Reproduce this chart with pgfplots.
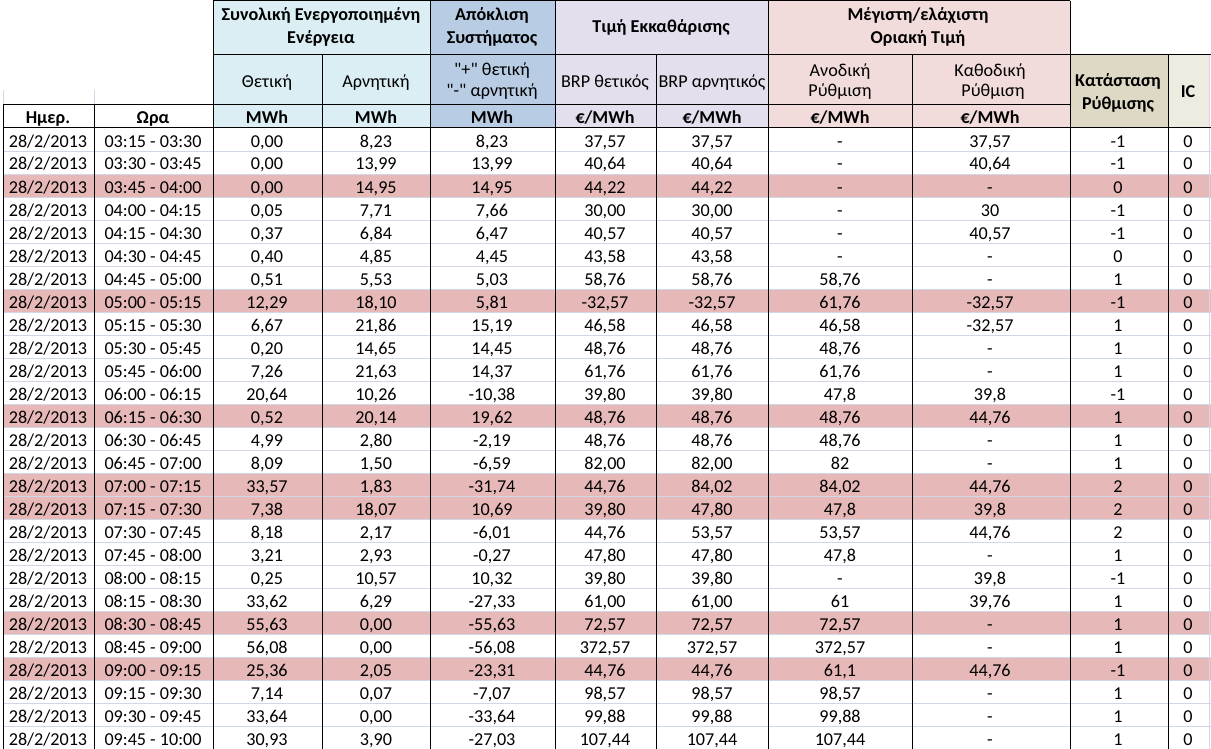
\documentclass[border=0pt]{standalone}
\usepackage{pgfplots}
\pgfplotsset{compat=1.18}
\usepackage{pgfplotstable}
\usepackage{fontspec}
\setmainfont{Carlito}[Ligatures=TeXOff]
\definecolor{hblue}{HTML}{DAEEF3}
\definecolor{hsteel}{HTML}{B8CCE4}
\definecolor{hlav}{HTML}{E4DFEC}
\definecolor{hpink}{HTML}{F2DCDB}
\definecolor{htan}{HTML}{DDD9C4}
\definecolor{hbeige}{HTML}{EEECE1}
\definecolor{hrow}{HTML}{E6B8B7}
\definecolor{gridc}{HTML}{D0D7E5}

\pgfplotstableread[col sep=semicolon]{
i;date;time;pos;neg;dev;brpp;brpn;up;down;state;ic
1;28/2/2013;03:15 - 03:30;0.00;8.23;8.23;37.57;37.57;-;37,57;-1;0
2;28/2/2013;03:30 - 03:45;0.00;13.99;13.99;40.64;40.64;-;40,64;-1;0
3;28/2/2013;03:45 - 04:00;0.00;14.95;14.95;44.22;44.22;-;-;0;0
4;28/2/2013;04:00 - 04:15;0.05;7.71;7.66;30.00;30.00;-;30;-1;0
5;28/2/2013;04:15 - 04:30;0.37;6.84;6.47;40.57;40.57;-;40,57;-1;0
6;28/2/2013;04:30 - 04:45;0.40;4.85;4.45;43.58;43.58;-;-;0;0
7;28/2/2013;04:45 - 05:00;0.51;5.53;5.03;58.76;58.76;58,76;-;1;0
8;28/2/2013;05:00 - 05:15;12.29;18.10;5.81;-32.57;-32.57;61,76;-32,57;-1;0
9;28/2/2013;05:15 - 05:30;6.67;21.86;15.19;46.58;46.58;46,58;-32,57;1;0
10;28/2/2013;05:30 - 05:45;0.20;14.65;14.45;48.76;48.76;48,76;-;1;0
11;28/2/2013;05:45 - 06:00;7.26;21.63;14.37;61.76;61.76;61,76;-;1;0
12;28/2/2013;06:00 - 06:15;20.64;10.26;-10.38;39.80;39.80;47,8;39,8;-1;0
13;28/2/2013;06:15 - 06:30;0.52;20.14;19.62;48.76;48.76;48,76;44,76;1;0
14;28/2/2013;06:30 - 06:45;4.99;2.80;-2.19;48.76;48.76;48,76;-;1;0
15;28/2/2013;06:45 - 07:00;8.09;1.50;-6.59;82.00;82.00;82;-;1;0
16;28/2/2013;07:00 - 07:15;33.57;1.83;-31.74;44.76;84.02;84,02;44,76;2;0
17;28/2/2013;07:15 - 07:30;7.38;18.07;10.69;39.80;47.80;47,8;39,8;2;0
18;28/2/2013;07:30 - 07:45;8.18;2.17;-6.01;44.76;53.57;53,57;44,76;2;0
19;28/2/2013;07:45 - 08:00;3.21;2.93;-0.27;47.80;47.80;47,8;-;1;0
20;28/2/2013;08:00 - 08:15;0.25;10.57;10.32;39.80;39.80;-;39,8;-1;0
21;28/2/2013;08:15 - 08:30;33.62;6.29;-27.33;61.00;61.00;61;39,76;1;0
22;28/2/2013;08:30 - 08:45;55.63;0.00;-55.63;72.57;72.57;72,57;-;1;0
23;28/2/2013;08:45 - 09:00;56.08;0.00;-56.08;372.57;372.57;372,57;-;1;0
24;28/2/2013;09:00 - 09:15;25.36;2.05;-23.31;44.76;44.76;61,1;44,76;-1;0
25;28/2/2013;09:15 - 09:30;7.14;0.07;-7.07;98.57;98.57;98,57;-;1;0
26;28/2/2013;09:30 - 09:45;33.64;0.00;-33.64;99.88;99.88;99,88;-;1;0
27;28/2/2013;09:45 - 10:00;30.93;3.90;-27.03;107.44;107.44;107,44;-;1;0
}\datatable

\tikzset{cellfont/.style={font=\fontsize{13.6}{16}\selectfont},
         hb/.style={font=\fontsize{13.6}{16}\selectfont\bfseries}}
\pgfplotsset{
  numcell/.style={draw=none, mark=none, point meta=explicit,
    nodes near coords={\pgfmathprintnumber[fixed,fixed zerofill,precision=2,use comma,1000 sep={},assume math mode=true]{\pgfplotspointmeta}},
    nodes near coords align={anchor=base},
    every node near coord/.append style={cellfont, inner sep=0pt, text=black}},
  intcell/.style={draw=none, mark=none, point meta=explicit,
    nodes near coords={\pgfmathprintnumber[fixed,precision=0,1000 sep={},assume math mode=true]{\pgfplotspointmeta}},
    nodes near coords align={anchor=base},
    every node near coord/.append style={cellfont, inner sep=0pt, text=black}},
  txtcell/.style={draw=none, mark=none, point meta=explicit symbolic,
    nodes near coords={\pgfplotspointmeta},
    nodes near coords align={anchor=base},
    every node near coord/.append style={cellfont, inner sep=0pt, text=black}},
}

\begin{document}
\begin{tikzpicture}[blk/.style={black, line width=0.75pt}, grd/.style={gridc, line width=0.75pt}]
\begin{axis}[
  width=908.25pt, height=561.75pt, scale only axis,
  xmin=0, xmax=1211, ymin=0, ymax=749, y dir=reverse,
  hide axis,
]
% background
\fill[white] (axis cs:0,0) rectangle (axis cs:1211,749);
% header fills
\fill[hblue] (axis cs:213,1) rectangle (axis cs:430,128);
\fill[hsteel] (axis cs:430,1) rectangle (axis cs:555,128);
\fill[hlav] (axis cs:555,1) rectangle (axis cs:768,128);
\fill[hpink] (axis cs:768,1) rectangle (axis cs:1070,128);
\fill[htan] (axis cs:1070,55) rectangle (axis cs:1168,128);
\fill[hbeige] (axis cs:1168,55) rectangle (axis cs:1209,128);
% highlighted rows
\pgfplotsinvokeforeach{3,8,13,16,17,22,24}{
  \fill[hrow] (axis cs:3,{128+(#1-1)*23}) rectangle (axis cs:1211,{128+#1*23});
}
% horizontal grid lines
\pgfplotsinvokeforeach{1,...,27}{
  \draw[grd] (axis cs:3,{128+#1*23}) -- (axis cs:1211,{128+#1*23});
}
\draw[grd] (axis cs:1209,55) -- (axis cs:1209,749);
\draw[grd] (axis cs:1070,0) -- (axis cs:1211,0);
\draw[grd] (axis cs:94,90) -- (axis cs:94,105);
\draw[grd] (axis cs:3,90) -- (axis cs:3,105);
% black borders
\draw[blk] (axis cs:213,1) -- (axis cs:1070,1);
\draw[blk] (axis cs:213,55) -- (axis cs:1211,55);
\draw[blk] (axis cs:3,105) -- (axis cs:1070,105);
\draw[blk] (axis cs:3,128) -- (axis cs:1211,128);
\pgfplotsinvokeforeach{213,430,555,768,1070}{
  \draw[blk] (axis cs:#1,1) -- (axis cs:#1,749);
}
\pgfplotsinvokeforeach{322,656,912,1168}{
  \draw[blk] (axis cs:#1,55) -- (axis cs:#1,749);
}
\pgfplotsinvokeforeach{3,94}{
  \draw[blk] (axis cs:#1,105) -- (axis cs:#1,749);
}
% header texts (anchor = baseline)
\begin{scope}[every node/.style={cellfont, anchor=base, inner sep=0pt, text=black}]
\node[hb] at (axis cs:321,21) {Συνολική Ενεργοποιημένη};
\node[hb] at (axis cs:321,44) {Ενέργεια};
\node[hb] at (axis cs:492,21) {Απόκλιση};
\node[hb] at (axis cs:492,44) {Συστήματος};
\node[hb] at (axis cs:661,33) {Τιμή Εκκαθάρισης};
\node[hb] at (axis cs:918,21) {Μέγιστη/ελάχιστη};
\node[hb] at (axis cs:918,44) {Οριακή Τιμή};
\node at (axis cs:267,88) {Θετική};
\node at (axis cs:376,88) {Αρνητική};
\node at (axis cs:492,76) {"+" θετική};
\node at (axis cs:492,97) {"-" αρνητική};
\node at (axis cs:605,88) {BRP θετικός};
\node at (axis cs:712,88) {BRP αρνητικός};
\node at (axis cs:840,77) {Ανοδική};
\node at (axis cs:840,97) {Ρύθμιση};
\node at (axis cs:990,77) {Καθοδική};
\node at (axis cs:993,97) {Ρύθμιση};
\node[hb] at (axis cs:1118,87) {Κατάσταση};
\node[hb] at (axis cs:1118,109) {Ρύθμισης};
\node[hb] at (axis cs:1188,98) {IC};
\node[hb] at (axis cs:48,123) {Ημερ.};
\node[hb] at (axis cs:153,123) {Ωρα};
\node[hb] at (axis cs:267,123) {MWh};
\node[hb] at (axis cs:376,123) {MWh};
\node[hb] at (axis cs:492,123) {MWh};
\node[hb] at (axis cs:605,123) {€/MWh};
\node[hb] at (axis cs:712,123) {€/MWh};
\node[hb] at (axis cs:840,123) {€/MWh};
\node[hb] at (axis cs:990,123) {€/MWh};
\end{scope}
% data cells
\addplot[txtcell] table[x expr=48, y expr={147+(\thisrow{i}-1)*23}, meta=date] {\datatable};
\addplot[txtcell] table[x expr=153, y expr={147+(\thisrow{i}-1)*23}, meta=time] {\datatable};
\addplot[numcell] table[x expr=267, y expr={147+(\thisrow{i}-1)*23}, meta=pos] {\datatable};
\addplot[numcell] table[x expr=376, y expr={147+(\thisrow{i}-1)*23}, meta=neg] {\datatable};
\addplot[numcell] table[x expr=492, y expr={147+(\thisrow{i}-1)*23}, meta=dev] {\datatable};
\addplot[numcell] table[x expr=605, y expr={147+(\thisrow{i}-1)*23}, meta=brpp] {\datatable};
\addplot[numcell] table[x expr=712, y expr={147+(\thisrow{i}-1)*23}, meta=brpn] {\datatable};
\addplot[txtcell] table[x expr=840, y expr={147+(\thisrow{i}-1)*23}, meta=up] {\datatable};
\addplot[txtcell] table[x expr=990, y expr={147+(\thisrow{i}-1)*23}, meta=down] {\datatable};
\addplot[intcell] table[x expr=1118, y expr={147+(\thisrow{i}-1)*23}, meta=state] {\datatable};
\addplot[intcell] table[x expr=1188, y expr={147+(\thisrow{i}-1)*23}, meta=ic] {\datatable};
\end{axis}
\end{tikzpicture}
\end{document}
